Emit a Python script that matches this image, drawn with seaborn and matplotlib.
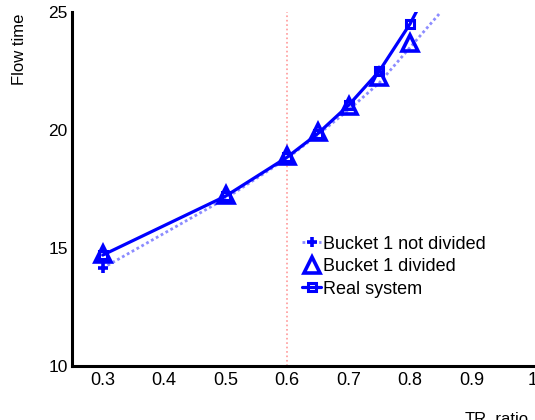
import seaborn as sns
import matplotlib.pyplot as plt
import numpy as np

# ======= data =======
tr_ratio = [0.3, 0.5, 0.6, 0.65, 0.7, 0.75, 0.8, 0.85]
not_divided = [14.15, 17.1, 18.8, 19.8, 20.85, 22.0, 23.5, 25.0]

tr_divided = [0.3, 0.5, 0.6, 0.65, 0.7, 0.75, 0.8]
divided = [14.75, 17.25, 18.9, 19.9, 21.0, 22.25, 23.7]

tr_real = [0.3, 0.5, 0.6, 0.65, 0.7, 0.75, 0.8, 0.85]
real_system = [14.7, 17.2, 18.85, 19.85, 21.05, 22.5, 24.5, 27.0]

xticks = [0.3, 0.4, 0.5, 0.6, 0.7, 0.8, 0.9, 1.0]
xticklabels = ["0.3", "0.4", "0.5", "0.6", "0.7", "0.8", "0.9", "1"]
yticks = [10, 15, 20, 25]
threshold = 0.6
# ============================================


def plot_flow():
    sns.set_theme(style='white')
    plt.rcParams['font.family'] = ['Liberation Sans', 'DejaVu Sans']
    plt.rcParams['text.color'] = 'black'

    fig = plt.figure(figsize=(5.35, 4.2), dpi=100)
    ax = fig.add_axes([0.1346, 0.1286, 0.8617, 0.8428])

    blue = '#0000ff'
    light = '#8c8cff'

    # vertical reference line
    ax.axvline(threshold, color='#ff9a9a', lw=1.2, ls=':', zorder=1)

    sns.lineplot(x=tr_ratio, y=not_divided, ax=ax, color=light, lw=2,
                 dashes=False, label='_nolegend_')
    ax.lines[-1].set_dashes((1, 1))
    ax.plot(tr_ratio[:1], not_divided[:1], ls='none', marker='+',
            ms=7, mew=2.6, color=blue)
    # legend proxy for the "+" series
    ax.plot([], [], color=light, lw=2, dashes=(1, 1), marker='+', ms=7,
            mew=2.6, mec=blue, label='Bucket 1 not divided')

    sns.lineplot(x=tr_divided, y=divided, ax=ax, linestyle='none',
                 marker='^', markersize=12, markerfacecolor='none',
                 markeredgecolor=blue, markeredgewidth=2.6, color=blue,
                 label='Bucket 1 divided')

    sns.lineplot(x=tr_real, y=real_system, ax=ax, color=blue, lw=2.3,
                 marker='s', markersize=6, markerfacecolor='none',
                 markeredgecolor=blue, markeredgewidth=2.2,
                 label='Real system')

    ax.set_xlim(0.25, 1.0)
    ax.set_ylim(10, 25)
    ax.set_xticks(xticks)
    ax.set_xticklabels(xticklabels)
    ax.set_yticks(yticks)

    for side in ['top', 'right']:
        ax.spines[side].set_visible(False)
    for side in ['left', 'bottom']:
        ax.spines[side].set_color('black')
        ax.spines[side].set_linewidth(2.2)
    ax.tick_params(direction='in', length=4, width=2, colors='black',
                   labelsize=13, pad=4)
    ax.tick_params(axis='y', labelsize=12.5, pad=3)

    ax.set_ylabel('Flow time', fontsize=12, color='black')
    ax.yaxis.set_label_coords(-0.113, 0.895)
    ax.set_xlabel('TR_ratio', fontsize=12, color='black')
    ax.xaxis.set_label_coords(0.922, -0.15)
    ax.xaxis.label.set_va('center')
    ax.yaxis.label.set_va('center')

    ax.legend(loc='upper left', bbox_to_anchor=(0.499, 0.368), frameon=False,
              fontsize=13, handlelength=1.05, handletextpad=0.1,
              labelspacing=0.3, borderpad=0, borderaxespad=0)

    ax.grid(False)
    fig.savefig('out.png', dpi=100)


if __name__ == '__main__':
    plot_flow()
